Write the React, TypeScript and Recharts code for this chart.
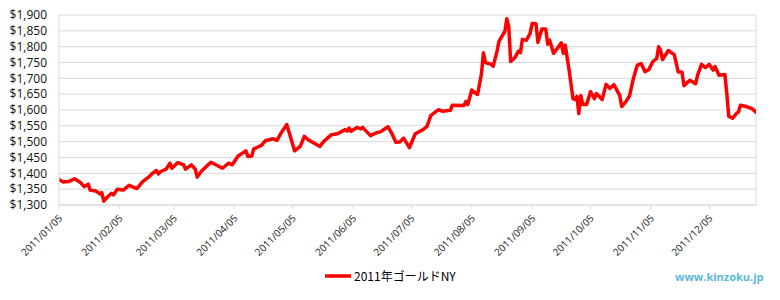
import React from "react";
import { LineChart, Line, XAxis, YAxis, CartesianGrid, Legend, ReferenceLine } from "recharts";

const YEAR = 2011;
const seriesName = "2011年ゴールドNY";

const dates = [
  "01/05","01/07","01/10","01/13","01/16","01/18","01/20","01/21","01/24","01/26","01/27","01/28","01/30",
  "02/01","02/02","02/04","02/07","02/10","02/14","02/17","02/20","02/22","02/24","02/25","02/26",
  "03/01","03/03","03/04","03/07","03/10","03/11","03/14","03/16","03/17","03/19","03/24","03/30",
  "04/02","04/04","04/07","04/11","04/12","04/14","04/15","04/19","04/21","04/25","04/27","04/29",
  "05/02","05/06","05/09","05/11","05/13","05/19","05/21","05/25","05/28",
  "06/01","06/02","06/03","06/04","06/07","06/09","06/10","06/11","06/14","06/17","06/19","06/23","06/25","06/27","06/29",
  "07/01","07/04","07/07","07/11","07/13","07/15","07/19","07/21","07/25","07/26",
  "08/01","08/02","08/03","08/05","08/08","08/10","08/11","08/12","08/15","08/16","08/18","08/19","08/21","08/22","08/23","08/24","08/25","08/27","08/29","08/30","08/31",
  "09/02","09/04","09/05","09/07","09/08","09/10","09/12","09/13","09/14","09/16","09/18","09/20","09/21","09/22","09/24","09/26","09/27","09/28","09/29","09/30",
  "10/01","10/03","10/05","10/07","10/08","10/11","10/13","10/15","10/17","10/20","10/21","10/23","10/25","10/27","10/29","10/31",
  "11/02","11/04","11/06","11/08","11/09","11/10","11/11","11/14","11/17","11/19","11/21","11/22","11/25","11/28","11/29",
  "12/01","12/03","12/05","12/07","12/08","12/10","12/13","12/14","12/15","12/17","12/19","12/20","12/21","12/24","12/27","12/29"
];

const prices = [
  1381,1373,1374,1383,1371,1358,1366,1347,1344,1335,1339,1312,1326,
  1337,1332,1350,1347,1362,1352,1374,1388,1400,1409,1398,1405,
  1413,1432,1416,1434,1427,1413,1427,1413,1388,1406,1435,1416,
  1432,1427,1455,1471,1453,1455,1477,1488,1503,1509,1504,1527,
  1554,1471,1486,1517,1506,1485,1501,1522,1525,
  1538,1533,1543,1533,1545,1540,1545,1538,1519,1528,1531,1547,1525,1498,1499,
  1511,1481,1525,1538,1548,1583,1601,1596,1599,1615,
  1614,1627,1617,1663,1649,1715,1781,1750,1744,1738,1786,1817,1838,1848,1888,1864,1753,1764,1786,1781,1823,
  1820,1842,1873,1872,1814,1856,1856,1808,1821,1779,1795,1812,1779,1805,1726,1636,1633,1643,1589,1646,
  1617,1617,1658,1636,1652,1633,1681,1668,1680,1646,1611,1625,1644,1699,1741,1747,
  1721,1728,1753,1762,1800,1788,1759,1788,1775,1721,1719,1677,1694,1683,1710,
  1744,1734,1744,1726,1737,1710,1712,1652,1580,1574,1589,1594,1615,1611,1604,1593
];

const xTickLabels = [
  "2011/01/05","2011/02/05","2011/03/05","2011/04/05","2011/05/05","2011/06/05",
  "2011/07/05","2011/08/05","2011/09/05","2011/10/05","2011/11/05","2011/12/05"
];
const yTicks = [1300,1350,1400,1450,1500,1550,1600,1650,1700,1750,1800,1850,1900];
const xEnd = "2011/12/29";

const DAY = 86400000;
const base = Date.UTC(YEAR, 0, 5);
const toDay = (s: string) => {
  const p = s.split("/").map(Number);
  return Math.round((Date.UTC(p[0], p[1] - 1, p[2]) - base) / DAY);
};

const data = dates.map((d, i) => ({ d: toDay(`${YEAR}/${d}`), date: `${YEAR}/${d}`, v: prices[i] }));
const tickDays = xTickLabels.map(toDay);
const tickLabelByDay: Record<number, string> = {};
xTickLabels.forEach((l) => (tickLabelByDay[toDay(l)] = l));
const endDay = toDay(xEnd);

const XTick = (props: any) => {
  const { x, y, payload } = props;
  const ax = x + 4;
  const ay = y + 8;
  return (
    <text
      x={ax}
      y={ay}
      textAnchor="end"
      fontSize={10}
      fontFamily="'Open Sans', sans-serif"
      fill="#222"
      transform={`rotate(-45, ${ax}, ${ay})`}
    >
      {tickLabelByDay[payload.value]}
    </text>
  );
};

const LegendContent = (props: any) => {
  const item = props.payload && props.payload[0];
  return (
    <div style={{ display: "flex", alignItems: "center", height: 20 }}>
      <svg width={29} height={20}>
        <line x1={0} y1={10} x2={26} y2={10} stroke={item ? item.color : "#ff0000"} strokeWidth={3.5} />
      </svg>
      <span style={{ fontFamily: "'Noto Sans CJK JP', sans-serif", fontSize: 12, color: "#000", lineHeight: "20px" }}>
        {item ? item.value : seriesName}
      </span>
    </div>
  );
};

export default function App() {
  return (
    <div style={{ position: "absolute", left: 0, top: 0, width: 780, height: 300, background: "#fff" }}>
      <LineChart width={780} height={300} data={data} margin={{ top: 15, right: 24, bottom: 14, left: 0 }}>
        <CartesianGrid vertical={false} stroke="#d9d9d9" />
        <XAxis
          type="number"
          dataKey="d"
          domain={[0, endDay]}
          ticks={tickDays}
          interval={0}
          height={61}
          tickSize={4}
          axisLine={{ stroke: "#d9d9d9" }}
          tickLine={{ stroke: "#d9d9d9" }}
          tick={<XTick />}
          allowDataOverflow
        />
        <YAxis
          domain={[1300, 1900]}
          ticks={yTicks}
          interval={0}
          width={59}
          tickLine={false}
          tickSize={8}
          tickMargin={4}
          axisLine={{ stroke: "#d9d9d9" }}
          tick={{ fill: "#111", fontSize: 12, fontFamily: "'Open Sans', sans-serif" }}
          tickFormatter={(v: number) => `$${v.toLocaleString("en-US")}`}
        />
        <ReferenceLine x={endDay} stroke="#d9d9d9" />
        <Legend
          verticalAlign="bottom"
          height={20}
          content={<LegendContent />}
          wrapperStyle={{ left: 325, width: 160, bottom: 14 }}
        />
        <Line
          type="linear"
          dataKey="v"
          name={seriesName}
          stroke="#ff0000"
          strokeWidth={3.5}
          strokeLinejoin="round"
          strokeLinecap="round"
          dot={false}
          isAnimationActive={false}
        />
      </LineChart>
      <div
        style={{
          position: "absolute",
          left: 675,
          top: 268,
          fontFamily: "'Open Sans', sans-serif",
          fontWeight: 700,
          fontSize: 11,
          color: "#5bb8dc",
          lineHeight: "18px",
        }}
      >
        www.kinzoku.jp
      </div>
    </div>
  );
}
